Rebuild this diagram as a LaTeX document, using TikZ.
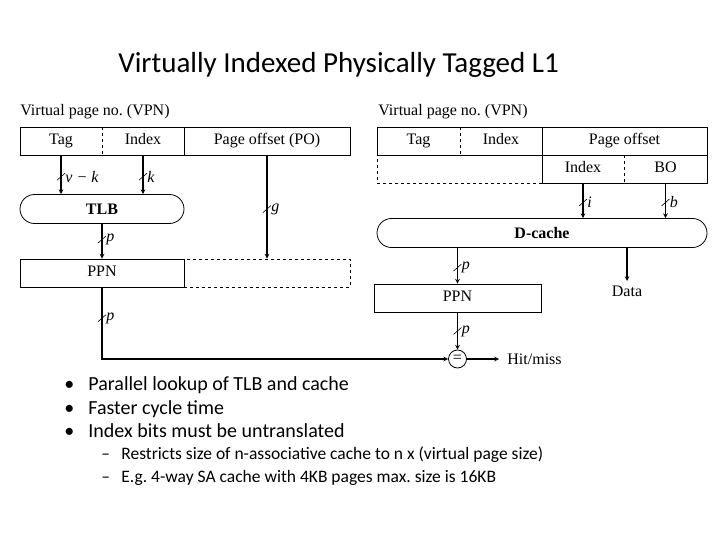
\documentclass[tikz,border=0pt]{standalone}
\usepackage{fontspec}
\setmainfont{Liberation Serif}
\newfontfamily\slidefont{Carlito}
\usetikzlibrary{shapes.misc}
\frenchspacing

\tikzset{
  field/.style={minimum height=28pt, inner sep=0pt, text height=10.5pt, text depth=3pt,
    font=\fontsize{16}{18}\selectfont},
  unit/.style={draw, line width=0.8pt, rounded rectangle, minimum height=29pt, inner sep=0pt,
    font=\fontsize{16}{18}\selectfont\bfseries},
  bus/.style={->, line width=1.1pt},
  tick/.style={line width=0.6pt},
  wlab/.style={anchor=west, inner sep=1pt, font=\fontsize{16}{18}\selectfont\itshape},
}

% bus width mark: slash across a wire plus its label
\newcommand\buswidth[2]{%
  \draw[tick] ([shift={(-4,3.5)}]#1) -- ([shift={(4,-3.5)}]#1);
  \node[wlab] (#1lab) at ([xshift=3pt]#1) {#2};}

\begin{document}
\begin{tikzpicture}[x=1pt, y=-1pt, >=stealth, line width=0.8pt]
  \useasboundingbox (0,0) rectangle (720,540);

  \node[anchor=base west, inner sep=0pt, font=\slidefont\fontsize{29}{33}\selectfont] (title)
    at (118,73) {Virtually Indexed Physically Tagged L1};

  % left: TLB first, then tag compare
  \node[anchor=base west, inner sep=0pt, font=\fontsize{16}{18}\selectfont] (vpnL) at (20,116) {Virtual page no. (VPN)};
  \draw (20,127) rectangle (350,155);
  \draw[dashed] (102,127) -- (102,155);
  \draw (184,127) -- (184,155);
  \node[field, minimum width=82pt]  (tagL) at (61,141)  {Tag};
  \node[field, minimum width=82pt]  (idxL) at (143,141) {Index};
  \node[field, minimum width=166pt] (poL)  at (267,141) {Page offset (PO)};

  \node[unit, minimum width=164pt] (tlb) at (102,209) {TLB};

  \node[field, draw, dashed, minimum width=166pt] (spare) at (267,273) {};
  \node[field, draw, minimum width=164pt] (ppnL) at (102,273) {PPN};

  \draw[bus] (tagL.south) -- coordinate[pos=.55] (t1) (tagL.south |- tlb.north);
  \draw[bus] (idxL.south) -- coordinate[pos=.55] (t2) (idxL.south |- tlb.north);
  \draw[bus] (tlb.south) -- coordinate[pos=.45] (t3) (ppnL.north);
  \draw[bus] (poL.south) -- coordinate[pos=.52] (t4) (spare.north);
  \buswidth{t1}{v − k}
  \buswidth{t2}{k}
  \buswidth{t3}{p}
  \buswidth{t4}{g}

  % right: cache indexed with page offset bits
  \node[anchor=base west, inner sep=0pt, font=\fontsize{16}{18}\selectfont] (vpnR) at (378,116) {Virtual page no. (VPN)};
  \draw (377,127) rectangle (707,155);
  \draw[dashed] (460,127) -- (460,155);
  \draw (542,127) -- (542,155);
  \draw (542,155) rectangle (707,183);
  \draw[dashed] (624,155) -- (624,183);
  \draw[dashed] (542,183) -- (377,183) -- (377,155);
  \node[field, minimum width=83pt]  (tagR)  at (418.5,141) {Tag};
  \node[field, minimum width=82pt]  (idxR)  at (501,141)   {Index};
  \node[field, minimum width=165pt] (pageR) at (624.5,141) {Page offset};
  \node[field, minimum width=82pt]  (ciR)   at (583,169)   {Index};
  \node[field, minimum width=83pt]  (boR)   at (665.5,169) {BO};

  \node[unit, minimum width=330pt] (dcache) at (542,233) {D-cache};
  \node[field, draw, minimum width=167pt] (ppnR) at (457.5,298) {PPN};
  \node[anchor=north, inner sep=5pt, font=\fontsize{16}{18}\selectfont] (data) at (627,281) {Data};

  \draw[bus] (ciR.south) -- coordinate[pos=.55] (t5) (ciR.south |- dcache.north);
  \draw[bus] (boR.south) -- coordinate[pos=.55] (t6) (boR.south |- dcache.north);
  \draw[bus] (ppnR.north |- dcache.south) -- coordinate[pos=.55] (t7) (ppnR.north);
  \draw[bus] (data.north |- dcache.south) -- (data.north);
  \buswidth{t5}{i}
  \buswidth{t6}{b}
  \buswidth{t7}{p}

  % compare
  \node[draw, circle, minimum size=18pt, inner sep=0pt, font=\fontsize{16}{18}\selectfont] (eq) at (457.5,359) {=};
  \node[anchor=west, inner sep=2pt, font=\fontsize{16}{18}\selectfont] (hit) at (505,359) {Hit/miss};
  \draw[bus] (ppnL.south) -- coordinate[pos=.43] (t8) (ppnL.south |- eq.west) -- (eq.west);
  \draw[bus] (ppnR.south) -- coordinate[pos=.5] (t9) (eq.north);
  \draw[bus, shorten >=6pt] (eq.east) -- (hit.west);
  \buswidth{t8}{p}
  \buswidth{t9}{p}

  % notes
  \begin{scope}[font=\slidefont\fontsize{20}{24}\selectfont]
    \node[anchor=base west, inner sep=0pt] (n1) at (64,390) {\makebox[24pt][l]{•}Parallel lookup of TLB and cache};
    \node[anchor=base west, inner sep=0pt] (n2) at (64,414) {\makebox[24pt][l]{•}Faster cycle time};
    \node[anchor=base west, inner sep=0pt] (n3) at (64,437) {\makebox[24pt][l]{•}Index bits must be untranslated};
  \end{scope}
  \begin{scope}[font=\slidefont\fontsize{17.5}{20}\selectfont]
    \node[anchor=base west, inner sep=0pt] (s1) at (101,459) {\makebox[20pt][l]{–}Restricts size of n-associative cache to n x (virtual page size)};
    \node[anchor=base west, inner sep=0pt] (s2) at (101,482) {\makebox[20pt][l]{–}E.g. 4-way SA cache with 4KB pages max. size is 16KB};
  \end{scope}
\end{tikzpicture}
\end{document}
